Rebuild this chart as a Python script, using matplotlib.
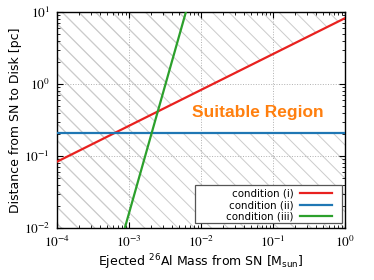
import numpy as np
import matplotlib
matplotlib.use("Agg")
import matplotlib.pyplot as plt
from matplotlib.ticker import FuncFormatter
from matplotlib.patches import Rectangle

plt.rcParams['mathtext.fontset'] = 'stix'
plt.rcParams['hatch.color'] = '#cbcbcb'
plt.rcParams['hatch.linewidth'] = 0.7

# endpoints (straight lines in log-log)
mass_i = [1e-4, 1.0]
dist_i = [0.083, 8.2]
mass_ii = [1e-4, 1.0]
dist_ii = [0.207, 0.207]
mass_iii = [8.8e-4, 6.2e-3]
dist_iii = [0.01, 10.0]

xlim = (1e-4, 1.0)
ylim = (1e-2, 10.0)

fig = plt.figure(figsize=(3.74, 2.8), dpi=100)
ax = fig.add_axes([0.152, 0.186, 0.770, 0.771])
ax.set_xscale('log')
ax.set_yscale('log')

# hatched (excluded) regions
hkw = dict(facecolor='none', edgecolor='#cbcbcb', linewidth=0, hatch='\\\\', zorder=1)
ax.fill_between(mass_i, dist_i, ylim[1], **hkw)
ax.fill_between(mass_ii, ylim[0], dist_ii, **hkw)
ax.fill_betweenx(dist_iii, xlim[0], mass_iii, **hkw)

ax.plot(mass_i, dist_i, color='#e8211f', lw=1.6, label='condition (i)', zorder=3)
ax.plot(mass_ii, dist_ii, color='#1f77b4', lw=1.6, label='condition (ii)', zorder=3)
ax.plot(mass_iii, dist_iii, color='#2ca02c', lw=1.6, label='condition (iii)', zorder=3)

ax.text(0.0075, 0.4, 'Suitable Region', color='#ff7f0e', fontsize=12.5,
        fontweight='bold', family='Liberation Sans', va='center', zorder=4)

ax.set_xlim(*xlim)
ax.set_ylim(*ylim)
fmt = FuncFormatter(lambda v, p: r'$10^{%d}$' % round(np.log10(v)))
ax.xaxis.set_major_formatter(fmt)
ax.yaxis.set_major_formatter(fmt)
ax.grid(True, which='major', ls=':', color='#b0b0b0', lw=0.7, zorder=0)
ax.tick_params(which='both', direction='in', top=True, right=True, labelsize=9.5)
ax.tick_params(which='major', length=4, width=0.8, pad=5)
ax.tick_params(which='minor', length=2, width=0.6)
for s in ax.spines.values():
    s.set_linewidth(1.0)

ax.set_xlabel(r'Ejected $^{26}$Al Mass from SN [M$_{\rm sun}$]', fontsize=9,
              math_fontfamily='dejavusans', labelpad=2)
ax.set_ylabel('Distance from SN to Disk [pc]', fontsize=9, labelpad=1.5)

# legend box drawn separately (it is wider than its content in the reference)
ax.add_patch(Rectangle((0.479, 0.023), 0.511, 0.176, transform=ax.transAxes,
                       facecolor='white', edgecolor='#555555', lw=0.9, zorder=5))
leg = ax.legend(loc='lower right', bbox_to_anchor=(0.955, 0.03), fontsize=7.4,
                markerfirst=False, frameon=False, handlelength=3.1,
                labelspacing=0.12, borderaxespad=0, borderpad=0,
                handletextpad=0.6)
leg.set_zorder(6)

fig.savefig('out.png', dpi=100)
